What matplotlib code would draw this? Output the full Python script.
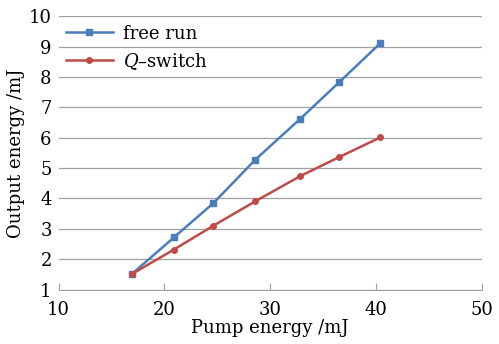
import matplotlib
matplotlib.use("Agg")
import matplotlib.pyplot as plt

pump = [16.9, 20.9, 24.6, 28.6, 32.8, 36.5, 40.4]
free_run = [1.51, 2.72, 3.84, 5.28, 6.61, 7.82, 9.11]
q_switch = [1.51, 2.32, 3.10, 3.91, 4.73, 5.36, 6.01]

plt.rcParams['font.family'] = 'DejaVu Serif'
plt.rcParams['mathtext.fontset'] = 'dejavuserif'

fig = plt.figure(figsize=(4.99, 3.44), dpi=100)
ax = fig.add_axes([0.1176, 0.158, 0.848, 0.795])

ax.plot(pump, free_run, color='#4a7ebb', lw=1.8, marker='s', ms=4.5, label='free run')
ax.plot(pump, q_switch, color='#be4b48', lw=1.8, marker='o', ms=4, label='$Q$–switch')

ax.set_xlim(10, 50)
ax.set_ylim(1, 10)
ax.set_xticks([10, 20, 30, 40, 50])
ax.set_yticks(range(1, 11))
ax.grid(axis='y', color='#a0a0a0', lw=0.9)
ax.set_axisbelow(True)
for s in ['left', 'right', 'top']:
    ax.spines[s].set_visible(False)
ax.spines['bottom'].set_color('#a0a0a0')
ax.tick_params(axis='x', direction='in', length=5, color='#a0a0a0', labelsize=13, pad=8)
ax.tick_params(axis='y', length=0, labelsize=13, pad=5)

ax.set_xlabel('Pump energy /mJ', fontsize=13, labelpad=0)
ax.set_ylabel('Output energy /mJ', fontsize=13, labelpad=3)
ax.legend(loc='upper left', frameon=False, fontsize=13, bbox_to_anchor=(-0.022, 1.028),
          handlelength=2.6, labelspacing=0.45, handletextpad=0.6)

fig.savefig('out.png', dpi=100)
